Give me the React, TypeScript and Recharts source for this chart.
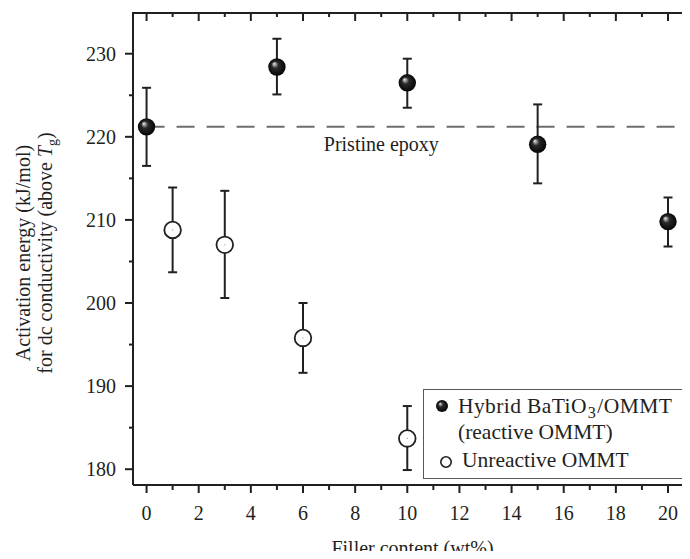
import React from "react";
import { ScatterChart, Scatter, XAxis, YAxis, ErrorBar, ReferenceLine } from "recharts";

// Hybrid BaTiO3/OMMT (reactive OMMT)
const hybridX = [0, 5, 10, 15, 20];
const hybridY = [221.2, 228.4, 226.5, 219.1, 209.8];
const hybridLow = [216.5, 225.1, 223.5, 214.4, 206.8];
const hybridHigh = [225.9, 231.8, 229.4, 223.9, 212.7];

// Unreactive OMMT
const unreactX = [1, 3, 6, 10];
const unreactY = [208.8, 207.0, 195.8, 183.7];
const unreactLow = [203.7, 200.6, 191.6, 179.9];
const unreactHigh = [213.9, 213.5, 200.0, 187.6];

const pristine = 221.2;

const xTicks = [0, 1, 2, 3, 4, 5, 6, 7, 8, 9, 10, 11, 12, 13, 14, 15, 16, 17, 18, 19, 20];
const yTicks = [180, 185, 190, 195, 200, 205, 210, 215, 220, 225, 230];

const INK = "#231f20";
const FONT = '"Liberation Serif", serif';
const X_DOMAIN = [-0.52, 20.92];
const Y_DOMAIN = [178.1, 234.9];

// layout
const CHART_W = 692;
const CHART_H = 559;
const TOP = 13;
const Y_AXIS_W = 133;
const X_AXIS_H = 74;
const PLOT_W = CHART_W - Y_AXIS_W;
const PLOT_H = CHART_H - TOP - X_AXIS_H;

const toRows = (xs: number[], ys: number[], lo: number[], hi: number[]) =>
  xs.map((x, i) => ({ x, y: ys[i], err: [ys[i] - lo[i], hi[i] - ys[i]] }));

const hybridData = toRows(hybridX, hybridY, hybridLow, hybridHigh);
const unreactData = toRows(unreactX, unreactY, unreactLow, unreactHigh);

// tick renderers: major ticks get labels; each tick is mirrored on the opposite frame edge
const BottomTick = ({ x, y, payload }: any) => {
  const major = payload.value % 2 === 0;
  const top = y - PLOT_H;
  return (
    <g>
      <line x1={x} x2={x} y1={y} y2={y + (major ? 8 : 5)} stroke={INK} strokeWidth={2} />
      <line x1={x} x2={x} y1={top} y2={top + (major ? 8 : 4)} stroke={INK} strokeWidth={2} />
      {major && (
        <text x={x} y={y + 35} textAnchor="middle" fontSize={20} style={{ fontFamily: FONT }} fill={INK}>
          {payload.value}
        </text>
      )}
    </g>
  );
};

const LeftTick = ({ x, y, payload }: any) => {
  const major = payload.value % 10 === 0;
  const len = major ? 8 : 4;
  const right = x + PLOT_W;
  return (
    <g>
      <line x1={x - len} x2={x} y1={y} y2={y} stroke={INK} strokeWidth={2} />
      <line x1={right - len} x2={right} y1={y} y2={y} stroke={INK} strokeWidth={2} />
      {major && (
        <text x={x - 17} y={y + 7} textAnchor="end" fontSize={20} style={{ fontFamily: FONT }} fill={INK}>
          {payload.value}
        </text>
      )}
    </g>
  );
};

const YTitle = ({ viewBox }: any) => {
  const cy = viewBox.y + viewBox.height / 2 + 4;
  return (
    <g fontSize={20} fill={INK} style={{ fontFamily: FONT }}>
      <text x={30} y={cy} transform={`rotate(-90 30 ${cy})`} textAnchor="middle">
        Activation energy (kJ/mol)
      </text>
      <text x={52} y={cy} transform={`rotate(-90 52 ${cy})`} textAnchor="middle">
        for dc conductivity (above <tspan fontStyle="italic">T</tspan>
        <tspan fontSize={14} dy={5}>g</tspan>
        <tspan dy={-5}>)</tspan>
      </text>
    </g>
  );
};

const Ball = (p: any) => <circle cx={p.cx} cy={p.cy} r={8.7} fill="url(#ball)" />;
const Ring = (p: any) => (
  <g>
    <circle cx={p.cx} cy={p.cy} r={8.3} fill="#fff" stroke={INK} strokeWidth={1.8} />
    <circle cx={p.cx} cy={p.cy} r={0.6} fill="#999" />
  </g>
);

const BallGradient = ({ id }: { id: string }) => (
  <radialGradient id={id} cx="0.5" cy="0.5" r="0.5" fx="0.33" fy="0.3">
    <stop offset="0" stopColor="#f4f4f4" />
    <stop offset="0.14" stopColor="#a8a8a8" />
    <stop offset="0.4" stopColor="#2a2a2a" />
    <stop offset="1" stopColor="#050505" />
  </radialGradient>
);

const Legend = () => (
  <div
    style={{
      position: "absolute",
      left: 423,
      top: 389,
      width: 260,
      height: 90,
      boxSizing: "border-box",
      border: "1.5px solid #58595b",
      background: "#fff",
      fontFamily: FONT,
      fontSize: 21.5,
      color: INK,
      whiteSpace: "nowrap",
    }}
  >
    <svg width={40} height={88} style={{ position: "absolute", left: 0, top: 0 }}>
      <defs>
        <BallGradient id="legendBall" />
      </defs>
      <circle cx={18} cy={16} r={6} fill="url(#legendBall)" />
      <circle cx={22} cy={72} r={5.2} fill="#fff" stroke={INK} strokeWidth={1.6} />
    </svg>
    <span style={{ position: "absolute", left: 34, top: 4, lineHeight: "24px", letterSpacing: "0.4px" }}>
      Hybrid BaTiO<sub style={{ fontSize: "0.75em", verticalAlign: "-0.3em", lineHeight: 0, margin: "0 1px" }}>3</sub>/OMMT
    </span>
    <span style={{ position: "absolute", left: 34, top: 30, lineHeight: "24px" }}>(reactive OMMT)</span>
    <span style={{ position: "absolute", left: 38, top: 58, lineHeight: "24px" }}>Unreactive OMMT</span>
  </div>
);

export default function App() {
  return (
    <div style={{ position: "relative", margin: -8, width: 690, height: 559, overflow: "hidden", background: "#fff" }}>
      <ScatterChart width={CHART_W} height={CHART_H} margin={{ top: TOP, right: 0, bottom: 0, left: 0 }} style={{ fontFamily: FONT }}>
        <defs>
          <BallGradient id="ball" />
        </defs>

        <XAxis
          type="number"
          dataKey="x"
          domain={X_DOMAIN}
          allowDataOverflow
          ticks={xTicks}
          interval={0}
          height={X_AXIS_H}
          tickSize={0}
          tickMargin={0}
          tickLine={false}
          tick={BottomTick}
          axisLine={{ stroke: INK, strokeWidth: 2 }}
          label={{ value: "Filler content (wt%)", position: "insideBottom", offset: 4, fontSize: 20, style: { fontFamily: FONT }, fill: INK }}
        />
        <YAxis
          type="number"
          dataKey="y"
          domain={Y_DOMAIN}
          allowDataOverflow
          ticks={yTicks}
          interval={0}
          width={Y_AXIS_W}
          tickSize={0}
          tickMargin={0}
          tickLine={false}
          tick={LeftTick}
          axisLine={{ stroke: INK, strokeWidth: 2 }}
          label={YTitle}
        />

        {/* Pristine epoxy reference */}
        <ReferenceLine
          segment={[
            { x: 0, y: pristine },
            { x: X_DOMAIN[1], y: pristine },
          ]}
          stroke="#6d6e71"
          strokeWidth={2}
          strokeDasharray="18 12"
          label={{ value: "Pristine epoxy", position: "bottom", offset: 10, dx: -38, fontSize: 20, style: { fontFamily: FONT }, fill: INK }}
        />

        <Scatter data={unreactData} shape={Ring} isAnimationActive={false}>
          <ErrorBar dataKey="err" direction="y" width={4.5} strokeWidth={2} stroke={INK} isAnimationActive={false} />
        </Scatter>
        <Scatter data={hybridData} shape={Ball} isAnimationActive={false}>
          <ErrorBar dataKey="err" direction="y" width={4.5} strokeWidth={2} stroke={INK} isAnimationActive={false} />
        </Scatter>
      </ScatterChart>
      {/* top edge of the box frame */}
      <div style={{ position: "absolute", left: Y_AXIS_W - 1, top: TOP - 1, width: PLOT_W + 1, height: 2, background: INK }} />
      <Legend />
    </div>
  );
}
